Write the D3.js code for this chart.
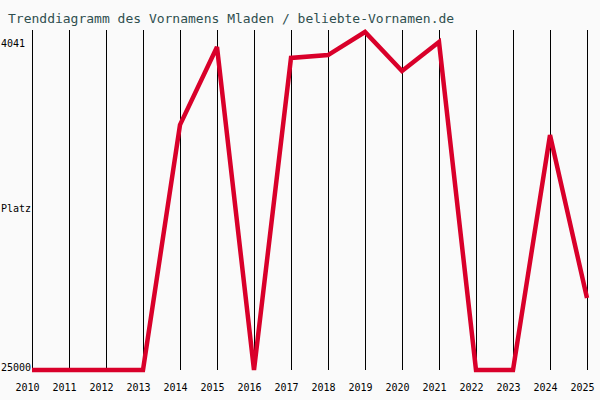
<!DOCTYPE html>
<html>
<head>
<meta charset="utf-8">
<script src="https://cdn.jsdelivr.net/npm/d3@7"></script>
<style>
  body { margin:0; background:#fafafa; }
  svg { display:block; background:#fafafa; }
  text { font-family:"DejaVu Sans Mono", "Liberation Mono", monospace; }
</style>
</head>
<body>
<script>
// Platz pro Jahr (25000 = nicht in der Liste)
var years = [2010, 2011, 2012, 2013, 2014, 2015, 2016, 2017, 2018, 2019, 2020, 2021, 2022, 2023, 2024, 2025];
var ranks = [25000, 25000, 25000, 25000, 9800, 4970, 25000, 5650, 5470, 4041, 6460, 4660, 25000, 25000, 10430, 20540];
var yTicks = [4041, 25000];
var title = 'Trenddiagramm des Vornamens Mladen / beliebte-Vornamen.de';

var svgW = 600, svgH = 400, plotTop = 30, plotBottom = 370;

var svg = d3.select('body').append('svg').attr('width', svgW).attr('height', svgH);

var x = d3.scaleLinear().domain([2010, 2025]).range([32, 587]);
var y = d3.scaleLinear().domain([4041, 25000]).range([32, plotBottom]);

svg.append('text').attr('x', 8).attr('y', 23)
    .attr('font-size', 13).attr('fill', '#2f4f4f')
    .text(title);

// senkrechte Linien + Jahreszahlen
var xAxis = svg.append('g').attr('transform', 'translate(0,' + plotBottom + ')')
    .call(d3.axisBottom(x).tickValues(years).tickFormat(d3.format('d'))
        .tickSizeInner(-(plotBottom - plotTop)).tickSizeOuter(0));
xAxis.select('.domain').remove();
xAxis.selectAll('.tick line').attr('stroke', '#000').attr('stroke-width', 1)
    .attr('shape-rendering', 'crispEdges');
xAxis.selectAll('.tick text').attr('font-size', 10).attr('fill', '#000')
    .attr('font-family', '"DejaVu Sans Mono", monospace')
    .attr('text-anchor', 'start').attr('x', -17).attr('y', 0).attr('dy', 21);

// y-Beschriftung
svg.selectAll('.ylab').data(yTicks).enter().append('text')
    .attr('class', 'ylab').attr('x', 1)
    .attr('y', function(d, i){ return i == 0 ? y(d) + 15 : y(d) + 1; })
    .attr('font-size', 10).attr('fill', '#000')
    .text(function(d){ return d; });
svg.append('text').attr('x', 1).attr('y', 212).attr('font-size', 10).attr('fill', '#000').text('Platz');

var line = d3.line()
    .x(function(d, i){ return x(years[i]); })
    .y(function(d){ return y(d); });

svg.append('path').datum(ranks)
    .attr('d', line)
    .attr('fill', 'none').attr('stroke', '#d9002a').attr('stroke-width', 4.5)
    .attr('stroke-linejoin', 'miter').attr('stroke-miterlimit', 3);
</script>
</body>
</html>
